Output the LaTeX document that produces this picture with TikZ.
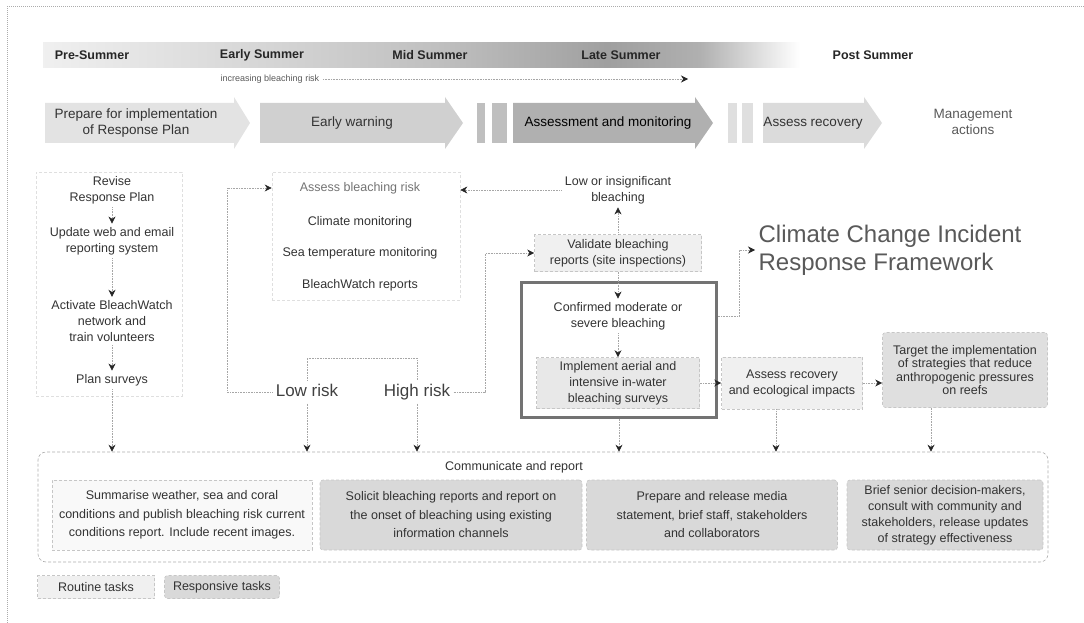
\documentclass[tikz,border=0pt]{standalone}
\usepackage{fontspec}
\setmainfont{Liberation Sans}
\usetikzlibrary{arrows.meta, positioning}

\begin{document}
\begin{tikzpicture}[x = 1pt, y = -1pt, > = {Stealth[length = 7pt, width = 7pt, color = black!85]}, semithick,
	font = \fontsize{12.5}{16}\selectfont, text = black!80,
	link/.style = {densely dotted, gray!70},
	season/.style = {font = \fontsize{12.5}{15}\bfseries\selectfont, text = black!85},
	phase/.style = {align = center, font = \fontsize{13.5}{16}\selectfont},
	task/.style = {align = center},
	risk/.style = {font = \fontsize{17}{20}\selectfont, text = black!75, text height = 12pt, text depth = 4pt},
	column/.style = {draw = gray!25, densely dashed},
	routine/.style = {draw = gray!45, densely dashed, fill = gray!12, align = center},
	responsive/.style = {draw = gray!45, densely dashed, fill = gray!30, rounded corners = 3pt, align = center}]

\useasboundingbox (0,0) rectangle (1084,623);
\draw[gray!65, line width = 1pt, densely dotted] (7,623) -- (7,7) -- (1084,7);

\shade[left color = gray!12, right color = gray!32]	(43,43) rectangle (260,68);
\shade[left color = gray!32, right color = gray!50]	(260,43) rectangle (440,68);
\shade[left color = gray!50, right color = gray!75]	(440,43) rectangle (610,68);
\shade[left color = gray!75, right color = gray!62]	(610,43) rectangle (700,68);
\shade[left color = gray!62, right color = white]	(700,43) rectangle (800,68);

\node[season]	(pre)	at (92,55)	{Pre-Summer};
\node[season]	(early)	at (262,55)	{Early Summer};
\node[season]	(mid)	at (430,55)	{Mid Summer};
\node[season]	(late)	at (621,55)	{Late Summer};
\node[season]	(post)	at (873,55)	{Post Summer};

\node[font = \fontsize{9}{10}\selectfont, text = black!65]	(incr)	at (270,79)	{increasing bleaching risk};
\coordinate	(incrend)	at (688,79);
\draw[link, ->]	(incr) -- (incrend);

\fill[gray!22] (45,103) -- (234,103) -- (234,97) -- (250,123) -- (234,149) -- (234,143) -- (45,143) -- cycle;
\fill[gray!37] (260,103) -- (445,103) -- (445,97) -- (463,123) -- (445,149) -- (445,143) -- (260,143) -- cycle;
\fill[gray!50] (477,103) rectangle (485,143);
\fill[gray!50] (492,103) rectangle (507,143);
\fill[gray!62] (513,103) -- (695,103) -- (695,97) -- (713,123) -- (695,149) -- (695,143) -- (513,143) -- cycle;
\fill[gray!25] (728,103) rectangle (737,143);
\fill[gray!25] (742,103) rectangle (753,143);
\fill[gray!28] (763,103) -- (864,103) -- (864,97) -- (882,123) -- (864,149) -- (864,143) -- (763,143) -- cycle;

\node[phase]					(prepare)		at (136,123)	{Prepare for implementation\\of Response Plan};
\node[phase]					(warning)		at (352,123)	{Early warning};
\node[phase, text = black]		(assessment)	at (608,123)	{Assessment and monitoring};
\node[phase]					(recovery)		at (813,123)	{Assess recovery};
\node[phase, text = black!65]	(manage)		at (973,122)	{Management\\actions};

\node[column, minimum width = 146, minimum height = 224]	(routinecol)	at (109,284)	{};
\node[task]		(revise)	at (112,190)	{Revise\\Response Plan};
\node[task]		(update)	at (112,241)	{Update web and email\\reporting system};
\node[task]		(activate)	at (112,321)	{Activate BleachWatch\\network and\\train volunteers};
\node[task]		(plan)		at (112,380)	{Plan surveys};

\node[column, minimum width = 188, minimum height = 128]	(riskbox)	at (366,236)	{};
\node[task, text = black!55]	(assess)	at (360,188)	{Assess bleaching risk};
\node[task]						(climate)	at (360,222)	{Climate monitoring};
\node[task]						(seatemp)	at (360,253)	{Sea temperature monitoring};
\node[task]						(bwreports)	at (360,285)	{BleachWatch reports};
\node[risk]						(lowrisk)	at (307,392)	{Low risk};
\node[risk]						(highrisk)	at (417,392)	{High risk};

\node[task]		(lowsig)	at (618,190)	{Low or insignificant\\bleaching};
\node[routine, minimum width = 167, minimum height = 37]	(validate)	at (618,253)	{Validate bleaching\\reports (site inspections)};
\node[draw = black!55, line width = 2.5pt, minimum width = 195, minimum height = 135]	(confirmbox)	at (619,350)	{};
\node[task]		(confirmed)	at (618,316)	{Confirmed moderate or\\severe bleaching};
\node[routine, fill = gray!18, minimum width = 163, minimum height = 51]	(implement)	at (618,383)	{Implement aerial and\\intensive in-water\\bleaching surveys};

\node[anchor = west, align = left, text = black!65, font = \fontsize{24}{28}\selectfont]	(title)	at (755,250)	{Climate Change Incident\\Response Framework};

\node[routine, minimum width = 141, minimum height = 52]	(assessrec)	at (792,383)	{Assess recovery\\and ecological impacts};
\node[responsive, fill = gray!25, minimum width = 165, minimum height = 75, font = \fontsize{12.5}{13.5}\selectfont]	(target)	at (965,370)	{Target the implementation\\of strategies that reduce\\anthropogenic pressures\\on reefs};

\node[draw = gray!65, densely dashed, rounded corners = 8pt, minimum width = 1010, minimum height = 110]	(comm)	at (543,507)	{};
\node[task]		(commtitle)	at (514,467)	{Communicate and report};
\node[routine, fill = gray!5, minimum width = 260, minimum height = 70, font = \fontsize{12.5}{18.5}\selectfont]	(summarise)	at (182,515)	{Summarise weather, sea and coral\\conditions and publish bleaching risk current\\conditions report. Include recent images.};
\node[responsive, minimum width = 262, minimum height = 70, font = \fontsize{12.5}{18.5}\selectfont]	(solicit)	at (451,515)	{Solicit bleaching reports and report on\\the onset of bleaching using existing\\information channels};
\node[responsive, minimum width = 251, minimum height = 70, font = \fontsize{12.5}{18.5}\selectfont]	(media)	at (712,515)	{Prepare and release media\\statement, brief staff, stakeholders\\and collaborators};
\node[responsive, minimum width = 196, minimum height = 70]	(brief)	at (945,515)	{Brief senior decision-makers,\\consult with community and\\stakeholders, release updates\\of strategy effectiveness};

\node[routine, minimum width = 117, minimum height = 23]	(routinekey)		at (96,587)		{Routine tasks};
\node[responsive, minimum width = 115, minimum height = 23]	(responsivekey)	at (222,587)	{Responsive tasks};

\path	(revise)	edge[link, ->]	(update);
\path	(update)	edge[link, ->]	(activate);
\path	(activate)	edge[link, ->]	(plan);
\path	(plan)		edge[link, ->]	(plan |- comm.north);

\draw[link]			(lowrisk.north) -- (lowrisk.north |- 0,358) -| (highrisk.north);
\draw[link, ->]		(lowrisk.west) -- ++(-45,0) |- (riskbox.west |- assess);
\draw[link, ->]		(highrisk.east) -- ++(32,0) |- (validate.west);
\draw[link, ->]		(lowsig.west) -- (riskbox.east |- lowsig.west);
\path	(lowrisk)		edge[link, ->]	(lowrisk |- comm.north);
\path	(highrisk)		edge[link, ->]	(highrisk |- comm.north);

\path	(validate)		edge[link, ->]	(lowsig);
\path	(validate)		edge[link, ->]	(confirmed);
\path	(confirmed)		edge[link, ->]	(implement);
\draw[link, ->]		(confirmed -| confirmbox.east) -- ++(22,0) |- (title.west);
\path	(implement)		edge[link, ->]	(assessrec);
\draw[link, ->]		(assessrec.east) -- (assessrec.east -| target.west);
\path	(confirmbox)	edge[link, ->]	(confirmbox |- comm.north);
\draw[link, ->]		(776,0 |- assessrec.south) -- (776,0 |- comm.north);
\draw[link, ->]		(931,0 |- target.south) -- (931,0 |- comm.north);

\end{tikzpicture}
\end{document}
